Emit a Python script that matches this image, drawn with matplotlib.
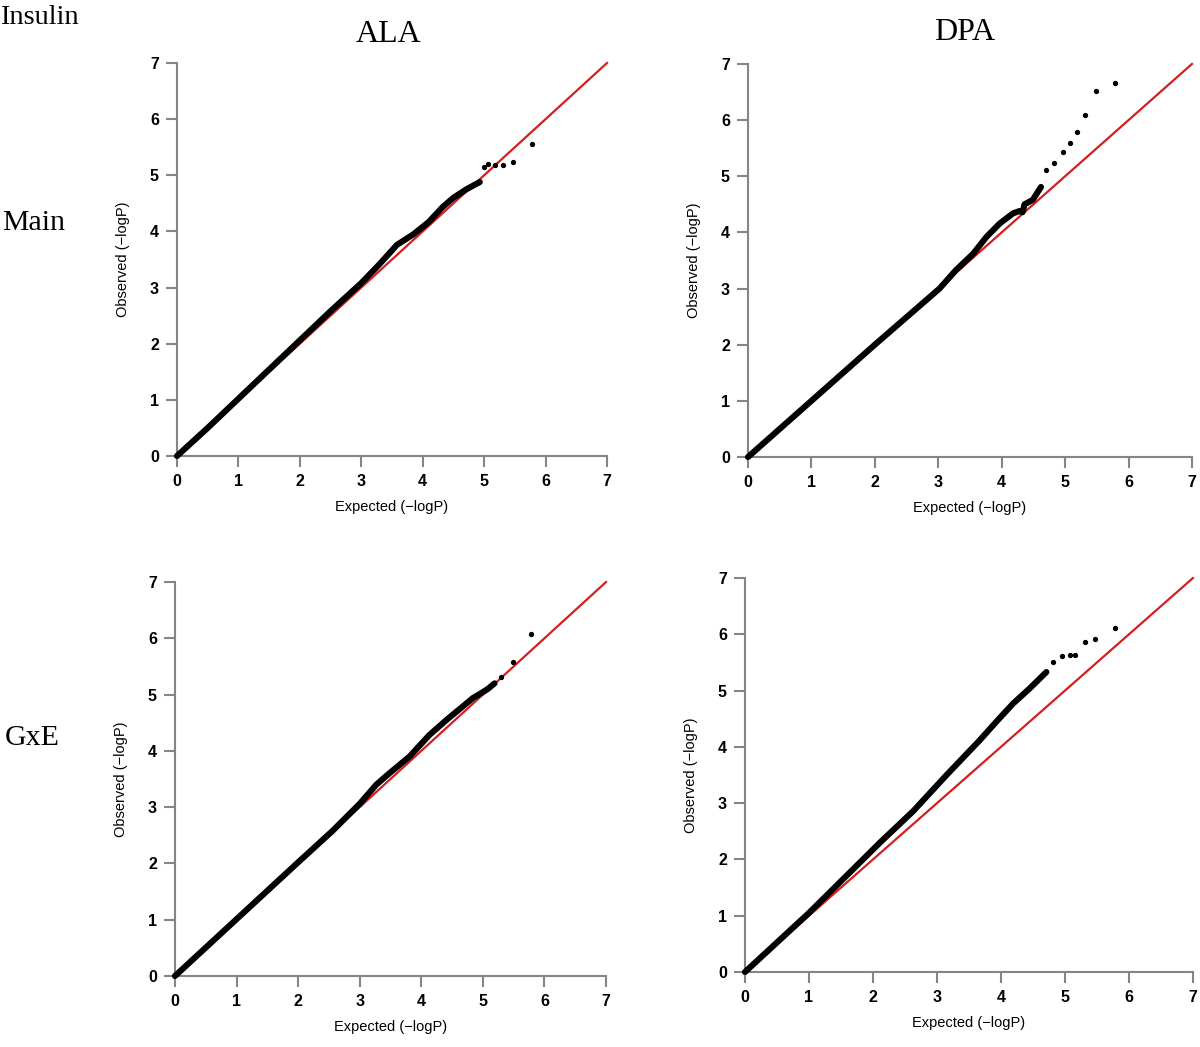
import matplotlib
matplotlib.use("Agg")
import matplotlib.pyplot as plt

# dense part of each QQ curve (expected, observed)
ala_main_exp = [0, 0.5, 1.0, 1.5, 2.0, 2.5, 3.0, 3.3, 3.58, 3.85, 4.1, 4.33, 4.5, 4.71, 4.93]
ala_main_obs = [0, 0.5, 1.02, 1.54, 2.06, 2.58, 3.08, 3.42, 3.76, 3.95, 4.17, 4.44, 4.6, 4.75, 4.88]
ala_main_tail_exp = [4.99, 5.07, 5.17, 5.30, 5.47, 5.78]
ala_main_tail_obs = [5.15, 5.20, 5.19, 5.19, 5.24, 5.55]

dpa_main_exp = [0, 1.0, 2.0, 3.02, 3.28, 3.55, 3.76, 3.97, 4.18, 4.28, 4.33, 4.36, 4.49, 4.62]
dpa_main_obs = [0, 1.0, 2.0, 3.0, 3.33, 3.62, 3.92, 4.16, 4.34, 4.38, 4.36, 4.5, 4.58, 4.81]
dpa_main_tail_exp = [4.70, 4.83, 4.97, 5.07, 5.19, 5.31, 5.48, 5.78]
dpa_main_tail_obs = [5.11, 5.24, 5.44, 5.59, 5.78, 6.09, 6.51, 6.67]

ala_gxe_exp = [0, 1.01, 2.02, 2.56, 3.0, 3.27, 3.48, 3.81, 4.13, 4.41, 4.62, 4.84, 4.95, 5.08, 5.19]
ala_gxe_obs = [0, 1.02, 2.04, 2.58, 3.06, 3.4, 3.6, 3.9, 4.28, 4.55, 4.74, 4.94, 5.01, 5.1, 5.2]
ala_gxe_tail_exp = [5.30, 5.49, 5.78]
ala_gxe_tail_obs = [5.31, 5.58, 6.07]

dpa_gxe_exp = [0, 1.0, 2.11, 2.63, 3.15, 3.67, 3.93, 4.19, 4.45, 4.71]
dpa_gxe_obs = [0, 1.05, 2.3, 2.86, 3.5, 4.12, 4.45, 4.77, 5.04, 5.33]
dpa_gxe_tail_exp = [4.82, 4.95, 5.08, 5.16, 5.31, 5.47, 5.78]
dpa_gxe_tail_obs = [5.51, 5.61, 5.64, 5.63, 5.87, 5.91, 6.12]

ticks = [0, 1, 2, 3, 4, 5, 6, 7]

fig = plt.figure(figsize=(12, 10.47), dpi=100)

panels = [
    ([0.1475, 0.5645, 0.3583, 0.3753], ala_main_exp, ala_main_obs, ala_main_tail_exp, ala_main_tail_obs),
    ([0.6233, 0.5635, 0.3700, 0.3754], dpa_main_exp, dpa_main_obs, dpa_main_tail_exp, dpa_main_tail_obs),
    ([0.1458, 0.0678, 0.3592, 0.3763], ala_gxe_exp, ala_gxe_obs, ala_gxe_tail_exp, ala_gxe_tail_obs),
    ([0.6208, 0.0716, 0.3733, 0.3763], dpa_gxe_exp, dpa_gxe_obs, dpa_gxe_tail_exp, dpa_gxe_tail_obs),
]

for rect, ex, ob, tex, tob in panels:
    ax = fig.add_axes(rect)
    ax.plot([0, 7], [0, 7], color="#d41f1f", linewidth=1.6, clip_on=False, zorder=2)
    ax.plot(ex, ob, color="black", linewidth=4.4, solid_capstyle="round",
            solid_joinstyle="round", clip_on=False, zorder=3)
    ax.plot(tex, tob, "o", color="black", markersize=2.8, clip_on=False, zorder=3)
    ax.set_xlim(0, 7)
    ax.set_ylim(0, 7)
    ax.set_xticks(ticks)
    ax.set_yticks(ticks)
    for s in ["top", "right"]:
        ax.spines[s].set_visible(False)
    for s in ["left", "bottom"]:
        ax.spines[s].set_color("#858585")
        ax.spines[s].set_linewidth(1.5)
    ax.tick_params(length=8, width=1.5, color="#858585", pad=5)
    for lab in ax.get_xticklabels() + ax.get_yticklabels():
        lab.set_fontfamily("Liberation Sans")
        lab.set_fontweight("bold")
        lab.set_fontsize(11.5)
    ax.set_xlabel("Expected (\u2212logP)", fontfamily="Liberation Sans", fontsize=10.5, labelpad=8)
    ax.set_ylabel("Observed (\u2212logP)", fontfamily="Liberation Sans", fontsize=10.5, labelpad=14)

serif = "Liberation Serif"
fig.text(0.0, 1 - 17 / 1047, "Insulin", fontfamily=serif, fontsize=20.5, va="center", ha="left")
fig.text(389 / 1200, 1 - 34 / 1047, "ALA", fontfamily=serif, fontsize=23, va="center", ha="center")
fig.text(965 / 1200, 1 - 32 / 1047, "DPA", fontfamily=serif, fontsize=23, va="center", ha="center")
fig.text(0.002, 1 - 223 / 1047, "Main", fontfamily=serif, fontsize=21.5, va="center", ha="left")
fig.text(0.004, 1 - 738 / 1047, "GxE", fontfamily=serif, fontsize=21.5, va="center", ha="left")

plt.savefig("out.png", dpi=100)
